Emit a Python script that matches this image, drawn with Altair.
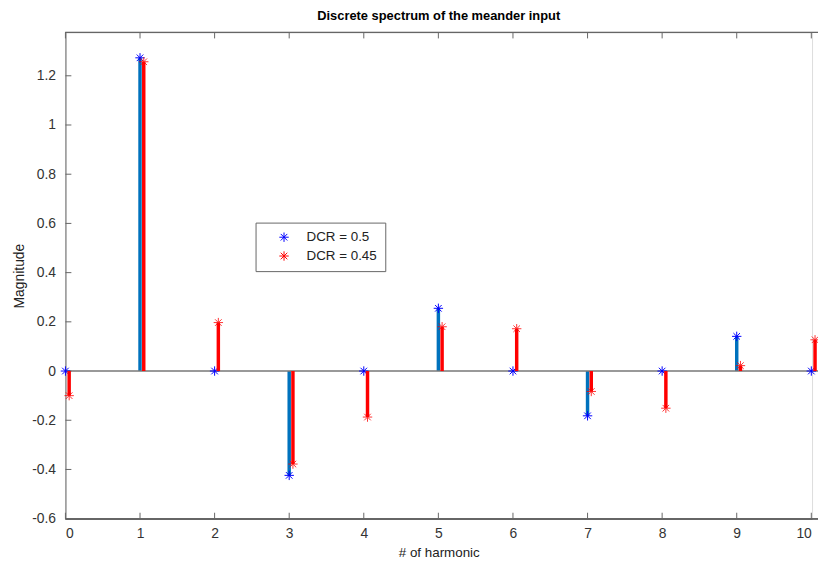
import altair as alt
import pandas as pd

harmonics = list(range(11))
dcr_05 = [0.0, 1.273, 0.0, -0.424, 0.0, 0.255, 0.0, -0.182, 0.0, 0.141, 0.0]
dcr_045 = [-0.1, 1.257, 0.197, -0.378, -0.187, 0.180, 0.172, -0.083, -0.151, 0.022, 0.127]
series_names = ["DCR = 0.5", "DCR = 0.45"]
x_ticks = list(range(11))
y_ticks = [-0.6, -0.4, -0.2, 0, 0.2, 0.4, 0.6, 0.8, 1, 1.2]

RED_SHIFT = 0.05
W, H = 754, 491
FONT = "Liberation Sans"
AST = "M-1,0L1,0M0,-1L0,1M-0.7,-0.7L0.7,0.7M-0.7,0.7L0.7,-0.7"

blue = pd.DataFrame({"x": harmonics, "y": dcr_05, "s": series_names[0]})
red = pd.DataFrame({"x": [h + RED_SHIFT for h in harmonics], "y": dcr_045, "s": series_names[1]})

xs = alt.Scale(domain=[0, 10.01], nice=False, zero=False)
ys = alt.Scale(domain=[-0.6, 1.376], nice=False, zero=False)

xax = alt.Axis(values=x_ticks, labelExpr="'' + datum.value", tickSize=0, grid=False,
               domainColor="#666", labelFontSize=14, labelColor="#333", labelPadding=8,
               titleFontSize=13.5, titleFontWeight="normal", titleColor="#222", titlePadding=5,
               labelFont=FONT, titleFont=FONT)
yax = alt.Axis(values=y_ticks, labelExpr="'' + datum.value", tickSize=0, grid=False,
               domainColor="#666", labelFontSize=14, labelColor="#333", labelPadding=10,
               titleFontSize=14, titleFontWeight="normal", titleColor="#222", titlePadding=5,
               labelFont=FONT, titleFont=FONT)

base_x = alt.X("x:Q", scale=xs, axis=xax, title="# of harmonic")
base_y = alt.Y("y:Q", scale=ys, axis=yax, title="Magnitude")

zero = alt.Chart(pd.DataFrame({"z": [0]})).mark_rule(color="#777", strokeWidth=1.5).encode(
    y=alt.Y("z:Q", scale=ys), x=alt.value(0), x2=alt.value(W + 6)
)

xt = pd.DataFrame({"t": x_ticks})
yt = pd.DataFrame({"t": y_ticks})
tick_bottom = alt.Chart(xt).mark_rule(color="#666").encode(
    x=alt.X("t:Q", scale=xs), y=alt.value(H), y2=alt.value(H - 6))
tick_top = alt.Chart(xt).mark_rule(color="#666").encode(
    x=alt.X("t:Q", scale=xs), y=alt.value(0), y2=alt.value(6))
tick_left = alt.Chart(yt).mark_rule(color="#666").encode(
    y=alt.Y("t:Q", scale=ys), x=alt.value(0), x2=alt.value(6))
top_line = alt.Chart(xt).mark_rule(color="#666").encode(
    x=alt.value(0), x2=alt.value(W + 6), y=alt.value(0))
bottom_line = alt.Chart(xt).mark_rule(color="#666").encode(
    x=alt.value(0), x2=alt.value(W + 6), y=alt.value(H))

stem_b = alt.Chart(blue).mark_rule(color="#0072BD", strokeWidth=3.5).encode(
    x=base_x, y=base_y, y2=alt.datum(0))
stem_r = alt.Chart(red).mark_rule(color="#FF0000", strokeWidth=3.5).encode(
    x=alt.X("x:Q", scale=xs), y=alt.Y("y:Q", scale=ys), y2=alt.datum(0))

color = alt.Color("s:N", scale=alt.Scale(domain=series_names, range=["#0000FF", "#FF0000"]),
                  legend=alt.Legend(title=None, orient="none", legendX=192, legendY=192,
                                    symbolType=AST, symbolSize=90, symbolStrokeWidth=1,
                                    labelFontSize=13.5, labelFont=FONT, labelColor="#222",
                                    symbolOffset=14, labelOffset=16, padding=8, rowPadding=4,
                                    strokeColor="#666", fillColor="white"))

pts_b = alt.Chart(blue).mark_point(shape=AST, size=90, strokeWidth=1, filled=False, opacity=1).encode(
    x=alt.X("x:Q", scale=xs), y=alt.Y("y:Q", scale=ys), color=color)
pts_r = alt.Chart(red).mark_point(shape=AST, size=90, strokeWidth=1, filled=False, opacity=0.8).encode(
    x=alt.X("x:Q", scale=xs), y=alt.Y("y:Q", scale=ys), color=color)

chart = alt.layer(stem_b, zero, tick_bottom, tick_top, tick_left, top_line, bottom_line,
                  pts_b, stem_r, pts_r).properties(
    width=W, height=H,
    title=alt.TitleParams("Discrete spectrum of the meander input", fontSize=13, fontWeight="bold",
                          font=FONT, color="#000", offset=9),
    autosize=alt.AutoSizeParams(type="none"),
    padding={"left": 58, "top": 22, "right": 6, "bottom": 38},
).configure_view(stroke=None).configure(background="white")

chart.save("out.html", embed_options={"renderer": "svg", "actions": False})
